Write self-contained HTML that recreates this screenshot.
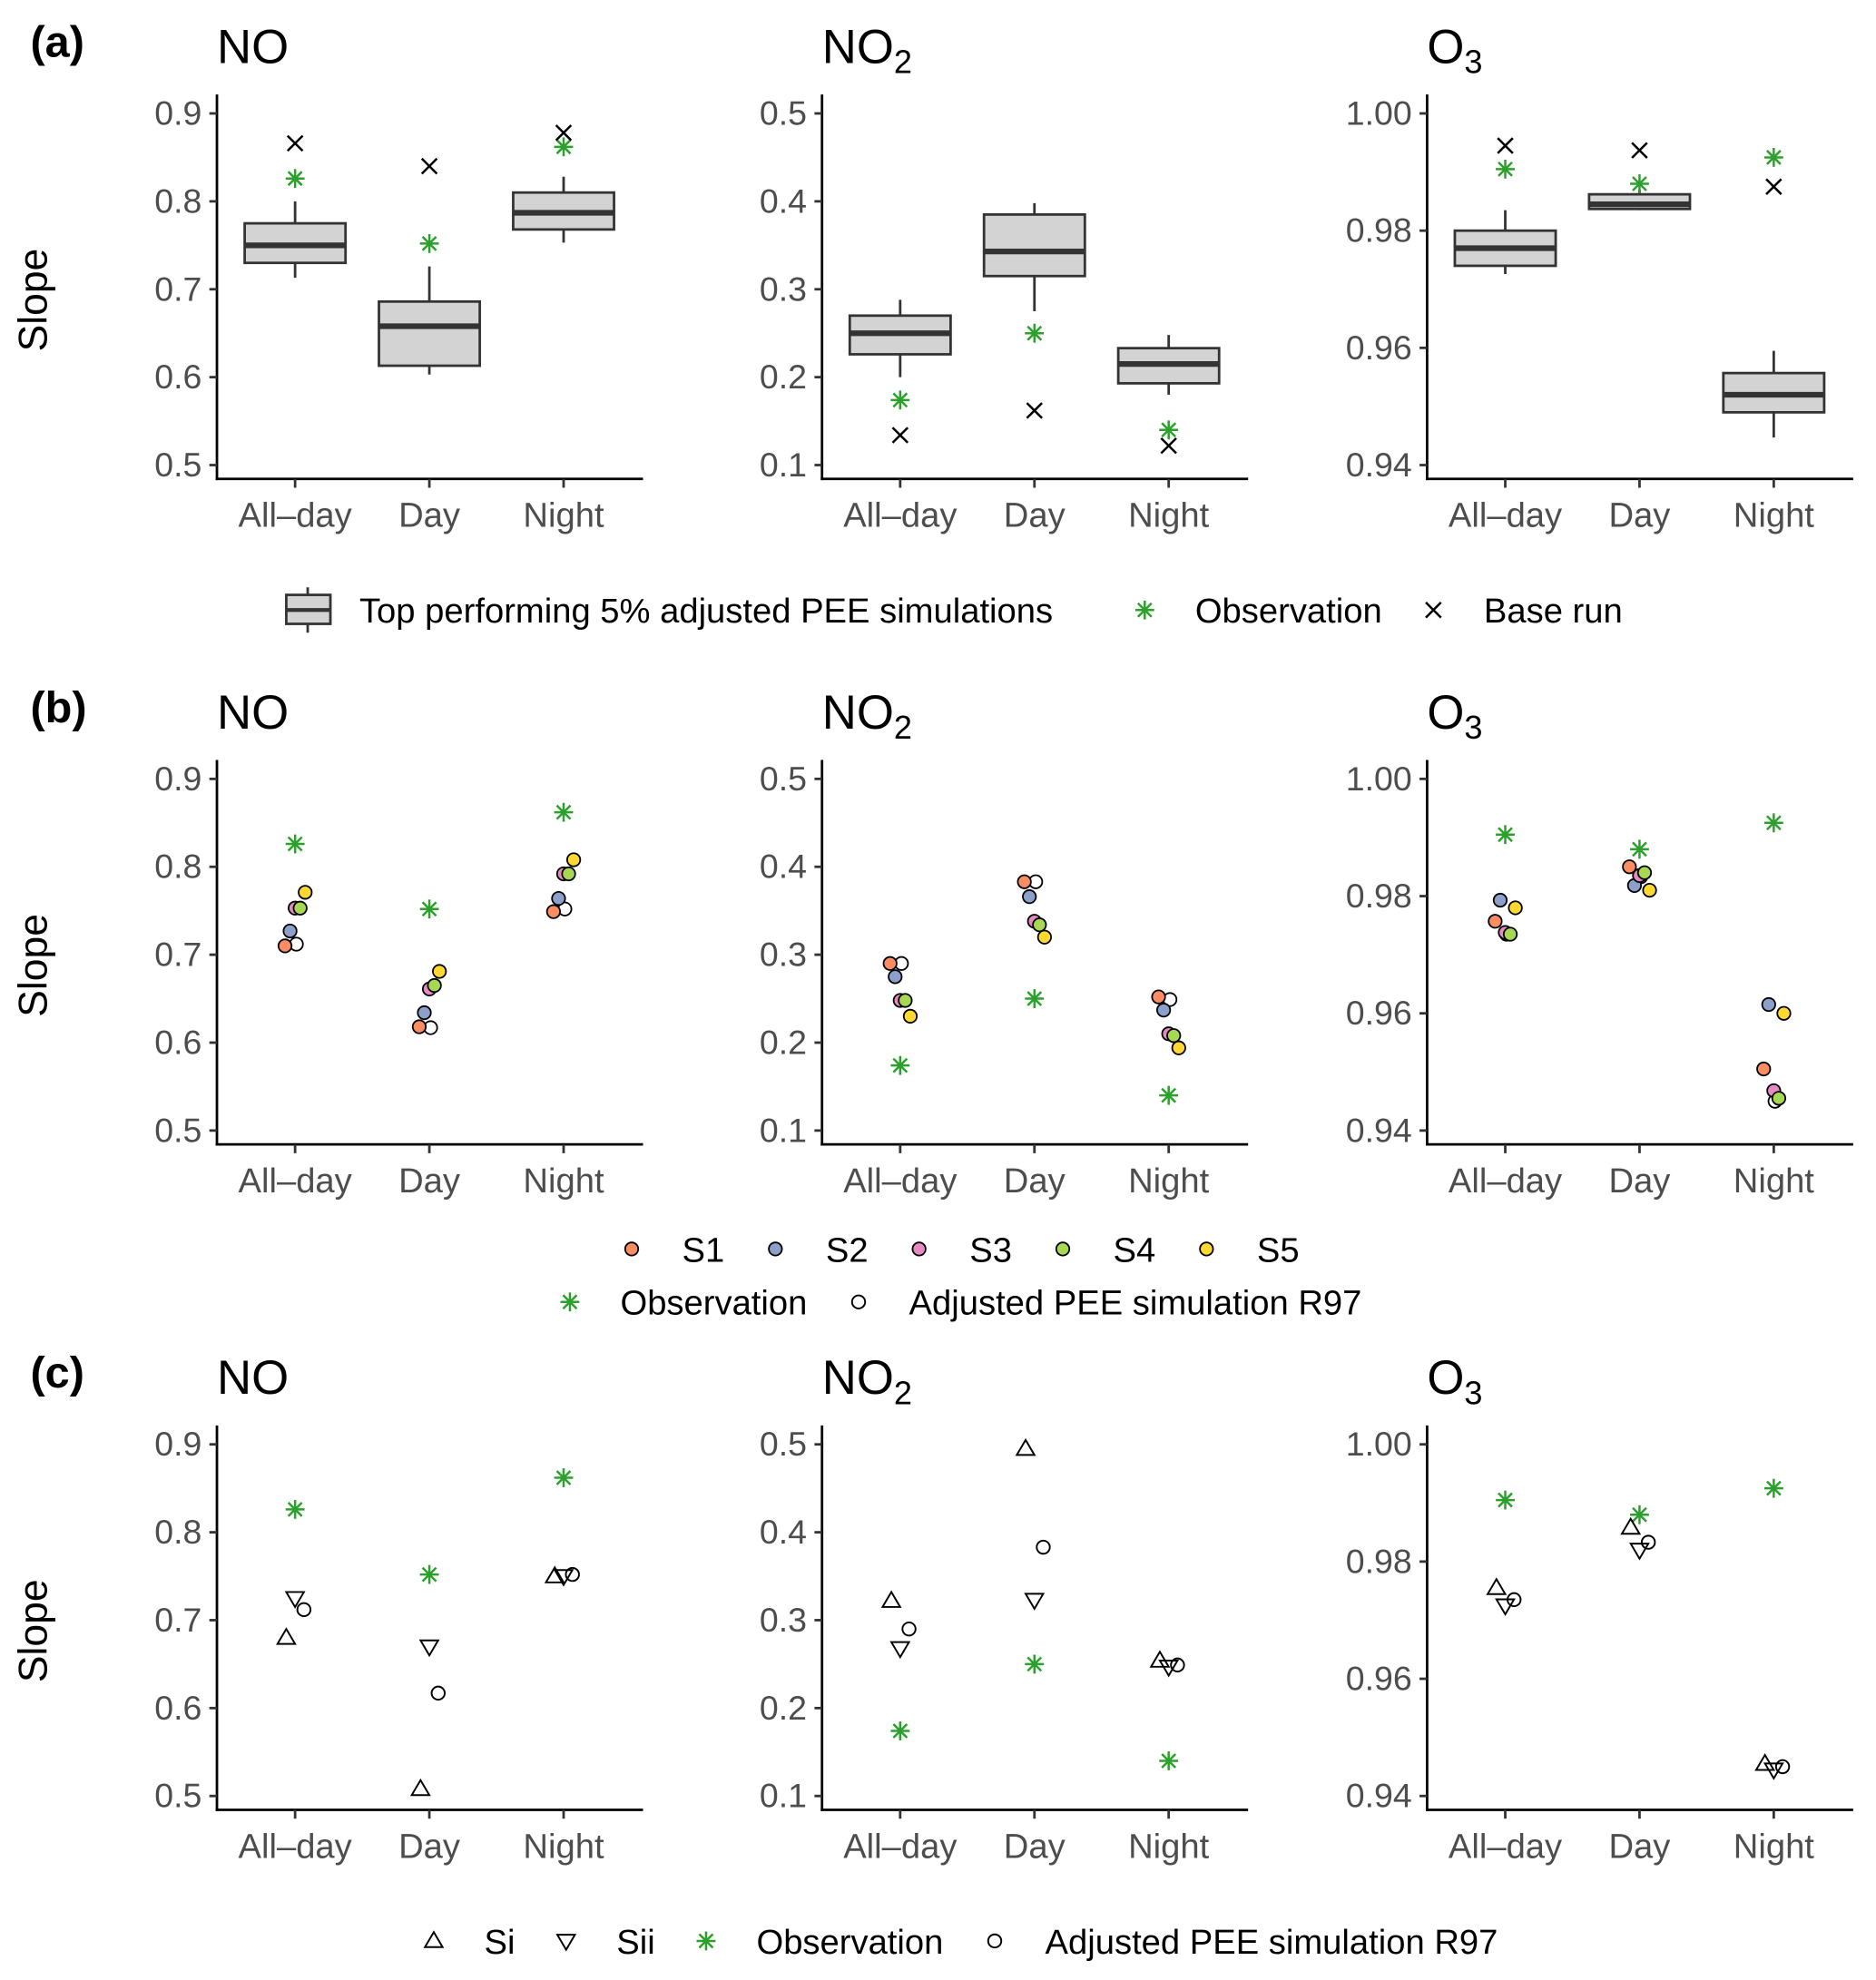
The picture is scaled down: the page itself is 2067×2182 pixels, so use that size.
<!DOCTYPE html>
<html><head><meta charset="utf-8"><style>
html,body{margin:0;padding:0;background:#fff}
svg{display:block;font-family:"Liberation Sans",Arial,sans-serif}
</style></head><body>
<svg id="fig" width="2067" height="2182" viewBox="0 0 1488 1571" xmlns="http://www.w3.org/2000/svg"></svg>
<script>
const categories = ["All\u2013day","Day","Night"];
const species = ["NO","NO2","O3"];
const yTicksNO = [0.5,0.6,0.7,0.8,0.9];
const yTicksNO2 = [0.1,0.2,0.3,0.4,0.5];
const yTicksO3 = [0.94,0.96,0.98,1.00];
const yTickLabelsO3 = ["0.94","0.96","0.98","1.00"];
// Row (a) boxplots: [whiskerLow, q1, median, q3, whiskerHigh]
const boxNO = [[0.713,0.730,0.750,0.775,0.800],[0.603,0.613,0.658,0.686,0.726],[0.753,0.768,0.787,0.810,0.828]];
const boxNO2 = [[0.200,0.226,0.250,0.270,0.288],[0.275,0.315,0.343,0.385,0.398],[0.180,0.193,0.215,0.233,0.248]];
const boxO3 = [[0.9726,0.9740,0.9770,0.9800,0.9835],[0.9835,0.9837,0.9845,0.9862,0.9870],[0.9447,0.9490,0.9520,0.9557,0.9595]];
const obsNO = [0.826,0.752,0.862];
const obsNO2 = [0.174,0.250,0.140];
const obsO3 = [0.9905,0.9880,0.9925];
const baseNO = [0.866,0.840,0.878];
const baseNO2 = [0.134,0.162,0.122];
const baseO3 = [0.9945,0.9937,0.9875];
// Row (b) scenarios S1..S5 per category
const sNO = [[0.710,0.727,0.753,0.753,0.771],[0.618,0.634,0.661,0.665,0.681],[0.749,0.764,0.792,0.792,0.808]];
const sNO2 = [[0.290,0.275,0.248,0.248,0.230],[0.383,0.366,0.338,0.334,0.320],[0.252,0.237,0.210,0.208,0.194]];
const sO3 = [[0.9757,0.9793,0.9738,0.9735,0.9780],[0.9850,0.9818,0.9835,0.9840,0.9810],[0.9505,0.9615,0.9468,0.9455,0.9600]];
const r97NO = [0.712,0.617,0.752];
const r97NO2 = [0.290,0.383,0.249];
const r97O3 = [0.9735,0.9833,0.9450];
// Row (c)
const siNO = [0.680,0.508,0.750];
const siiNO = [0.725,0.670,0.750];
const siNO2 = [0.322,0.495,0.254];
const siiNO2 = [0.268,0.323,0.247];
const siO3 = [0.9755,0.9858,0.9455];
const siiO3 = [0.9725,0.9820,0.9445];
const scenarioNames = ["S1","S2","S3","S4","S5"];
const scenarioColors = ["#fc8d62","#8da0cb","#e78ac3","#a6d854","#ffd92f"];

const svg = document.getElementById('fig');
const NS = "http://www.w3.org/2000/svg";
const GREEN = "#2ca02c";
function mk(tag, attrs, parent){const e=document.createElementNS(NS,tag);for(const k in attrs)e.setAttribute(k,attrs[k]);(parent||svg).appendChild(e);return e;}
function txt(s, attrs, parent){const e=mk('text',attrs,parent);e.textContent=s;return e;}

const panelX = [172,652,1132];
const domains = [[0.5,0.9],[0.1,0.5],[0.94,1.00]];
const tickSets = [yTicksNO,yTicksNO2,yTicksO3];
const rowOff = [0,528,1056];
function xScale(p,i){return panelX[p]+62+i*106.5;}
function yScale(p,r,v){const d=domains[p];return rowOff[r]+369-(v-d[0])/(d[1]-d[0])*279;}

function star(x,y,g){
  const s=7.5;
  mk('line',{x1:x-s,y1:y,x2:x+s,y2:y,stroke:GREEN,'stroke-width':1.8},g);
  mk('line',{x1:x,y1:y-s,x2:x,y2:y+s,stroke:GREEN,'stroke-width':1.8},g);
  const d=s*0.72;
  mk('line',{x1:x-d,y1:y-d,x2:x+d,y2:y+d,stroke:GREEN,'stroke-width':1.8},g);
  mk('line',{x1:x-d,y1:y+d,x2:x+d,y2:y-d,stroke:GREEN,'stroke-width':1.8},g);
}
function cross(x,y,g){const s=6;
  mk('line',{x1:x-s,y1:y-s,x2:x+s,y2:y+s,stroke:'#000','stroke-width':1.8},g);
  mk('line',{x1:x-s,y1:y+s,x2:x+s,y2:y-s,stroke:'#000','stroke-width':1.8},g);}
function dot(x,y,fill,g){return mk('circle',{cx:x,cy:y,r:5.2,fill:fill,stroke:'#000','stroke-width':1.3},g);}
function tri(x,y,up,g){const s=7;
  const p = up?`${x},${y-s} ${x-s},${y+s*0.7} ${x+s},${y+s*0.7}`:`${x},${y+s} ${x-s},${y-s*0.7} ${x+s},${y-s*0.7}`;
  return mk('polygon',{points:p,fill:'none',stroke:'#000','stroke-width':1.4},g);}

const rowLetters=["(a)","(b)","(c)"];
const titles=[["NO",""],["NO","2"],["O","3"]];
for(let r=0;r<3;r++){
  const lt = txt(rowLetters[r],{x:24,y:rowOff[r]+45,'font-size':35,'font-weight':'bold',fill:'#000'});
  
  
  const yl = txt("Slope",{x:0,y:0,'font-size':32,fill:'#000','text-anchor':'middle',transform:`translate(37,${rowOff[r]+238}) rotate(-90)`});
  
  
  for(let p=0;p<3;p++){
    const g=mk('g',{});
    
    
    const t=txt(titles[p][0],{x:panelX[p],y:rowOff[r]+50,'font-size':38,fill:'#000'},g);
    if(titles[p][1]){const ts=document.createElementNS(NS,'tspan');ts.setAttribute('font-size',26);ts.setAttribute('dy',8);ts.textContent=titles[p][1];t.appendChild(ts);}
    
    
    const x0=panelX[p], yb=rowOff[r]+380;
    mk('line',{x1:x0,y1:rowOff[r]+75,x2:x0,y2:yb+1,stroke:'#000','stroke-width':2},g);
    mk('line',{x1:x0-1,y1:yb,x2:x0+338,y2:yb,stroke:'#000','stroke-width':2},g);
    tickSets[p].forEach((v,k)=>{
      const y=yScale(p,r,v);
      mk('line',{x1:x0-6,y1:y,x2:x0,y2:y,stroke:'#333','stroke-width':2},g);
      const lab = p===2?yTickLabelsO3[k]:v.toFixed(1);
      const tl=txt(lab,{x:x0-12,y:y+9,'font-size':27,fill:'#4d4d4d','text-anchor':'end'},g);
      
      
    });
    categories.forEach((c,i)=>{
      const x=xScale(p,i);
      mk('line',{x1:x,y1:yb,x2:x,y2:yb+7,stroke:'#333','stroke-width':2},g);
      const xl=txt(c,{x:x,y:yb+38,'font-size':27.5,fill:'#4d4d4d','text-anchor':'middle'},g);
      
      
    });
    const obs=[obsNO,obsNO2,obsO3][p];
    if(r===0){
      const box=[boxNO,boxNO2,boxO3][p], base=[baseNO,baseNO2,baseO3][p];
      box.forEach((b,i)=>{
        const x=xScale(p,i), w=40;
        const bg=mk('g',{},g);
        
        
        mk('line',{x1:x,y1:yScale(p,r,b[0]),x2:x,y2:yScale(p,r,b[4]),stroke:'#333','stroke-width':2},bg);
        mk('rect',{x:x-w,y:yScale(p,r,b[3]),width:2*w,height:yScale(p,r,b[1])-yScale(p,r,b[3]),fill:'#d3d3d3',stroke:'#333','stroke-width':2},bg);
        mk('line',{x1:x-w,y1:yScale(p,r,b[2]),x2:x+w,y2:yScale(p,r,b[2]),stroke:'#333','stroke-width':4.5},bg);
        star(x,yScale(p,r,obs[i]),g);
        cross(x,yScale(p,r,base[i]),g);
      });
    } else if(r===1){
      const s=[sNO,sNO2,sO3][p], r97=[r97NO,r97NO2,r97O3][p];
      const offs=[-8,-4,0,4,8];
      categories.forEach((c,i)=>{
        const x=xScale(p,i);
        star(x,yScale(p,r,obs[i]),g);
        const rc=dot(x+1,yScale(p,r,r97[i]),'#fff',g);
        
        
        s[i].forEach((v,k)=>{
          const d=dot(x+offs[k],yScale(p,r,v),scenarioColors[k],g);
          
          
        });
      });
    } else {
      const si=[siNO,siNO2,siO3][p], sii=[siiNO,siiNO2,siiO3][p], r97=[r97NO,r97NO2,r97O3][p];
      categories.forEach((c,i)=>{
        const x=xScale(p,i);
        star(x,yScale(p,r,obs[i]),g);
        const a=tri(x-7,yScale(p,r,si[i]),true,g);
        
        
        const b=tri(x,yScale(p,r,sii[i]),false,g);
        
        
        const o=mk('circle',{cx:x+7,cy:yScale(p,r,r97[i]),r:5.2,fill:'none',stroke:'#000','stroke-width':1.4},g);
        
        
      });
    }
  }
}
// Legends
function ltext(s,x,y,g){return txt(s,{x:x,y:y+10,'font-size':27.5,fill:'#000'},g);}
const la=mk('g',{});  
mk('line',{x1:244,y1:466,x2:244,y2:502,stroke:'#333','stroke-width':2},la);
mk('rect',{x:227,y:472,width:35,height:23,fill:'#d3d3d3',stroke:'#333','stroke-width':2},la);
mk('line',{x1:227,y1:484,x2:262,y2:484,stroke:'#333','stroke-width':3},la);
ltext("Top performing 5% adjusted PEE simulations",285,484,la);
star(908,484,la); ltext("Observation",948,484,la);
cross(1137,484,la); ltext("Base run",1177,484,la);

const lb=mk('g',{});  
scenarioNames.forEach((n,k)=>{
  dot(501+k*114,991,scenarioColors[k],lb);
  ltext(n,541+k*114,991,lb);
});
star(452,1033,lb); ltext("Observation",492,1033,lb);
mk('circle',{cx:681,cy:1033,r:5.2,fill:'none',stroke:'#000','stroke-width':1.4},lb);
ltext("Adjusted PEE simulation R97",721,1033,lb);

const lc=mk('g',{});  
tri(344,1540,true,lc); ltext("Si",384,1540,lc);
tri(449,1540,false,lc); ltext("Sii",489,1540,lc);
star(560,1540,lc); ltext("Observation",600,1540,lc);
mk('circle',{cx:789,cy:1540,r:5.2,fill:'none',stroke:'#000','stroke-width':1.4},lc);
ltext("Adjusted PEE simulation R97",829,1540,lc);
</script>
</body></html>
